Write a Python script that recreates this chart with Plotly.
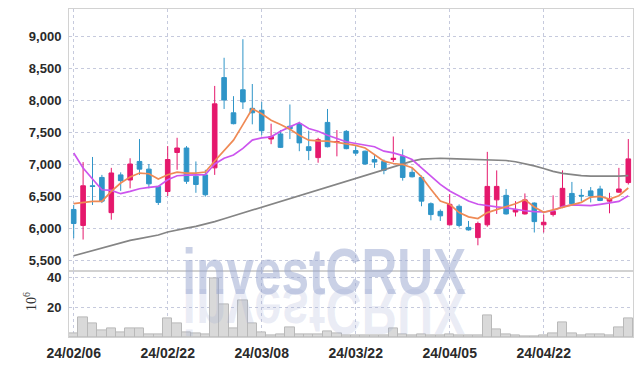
import plotly.graph_objects as go

dates = ["24/02/06", "24/02/07", "24/02/08", "24/02/13", "24/02/14", "24/02/15", "24/02/16", "24/02/19", "24/02/20", "24/02/21",
         "24/02/22", "24/02/23", "24/02/26", "24/02/27", "24/02/28", "24/02/29", "24/03/04", "24/03/05", "24/03/06", "24/03/07",
         "24/03/08", "24/03/11", "24/03/12", "24/03/13", "24/03/14", "24/03/15", "24/03/18", "24/03/19", "24/03/20", "24/03/21",
         "24/03/22", "24/03/25", "24/03/26", "24/03/27", "24/03/28", "24/03/29", "24/04/01", "24/04/02", "24/04/03", "24/04/04",
         "24/04/05", "24/04/08", "24/04/09", "24/04/11", "24/04/12", "24/04/15", "24/04/16", "24/04/17", "24/04/18", "24/04/19",
         "24/04/22", "24/04/23", "24/04/24", "24/04/25", "24/04/26", "24/04/29", "24/04/30", "24/05/02", "24/05/03", "24/05/07"]

open_ = [6290, 6040, 6660, 6790, 6240, 6830, 6750, 7040, 6920, 6650,
         6570, 7180, 7250, 6810, 6830, 6940, 8350, 7800, 8160, 7870,
         7840, 7390, 7470, 7590, 7630, 7270, 7100, 7650, 7340, 7510,
         7210, 7200, 7070, 7040, 7070, 7120, 6870, 6790, 6380, 6260,
         6050, 6340, 6010, 5850, 6050, 6440, 6510, 6250, 6220, 6390,
         6050, 6210, 6330, 6540, 6510, 6580, 6610, 6420, 6560, 6710]
high = [6360, 7030, 7110, 6830, 6940, 6870, 7090, 7390, 7000, 6660,
        7280, 7410, 7280, 7040, 6910, 8220, 8660, 8060, 8950, 8250,
        7970, 7630, 7530, 7930, 7660, 7520, 7410, 7860, 7530, 7530,
        7280, 7210, 7150, 7070, 7430, 7230, 6940, 6820, 6400, 6290,
        6530, 6370, 6110, 6100, 7190, 6900, 6610, 6420, 6540, 6400,
        6210, 6510, 6900, 6720, 6610, 6640, 6660, 6550, 6940, 7390]
low = [5840, 5820, 6360, 6390, 6130, 6580, 6620, 6830, 6620, 6360,
       6500, 6910, 6690, 6550, 6490, 6830, 7860, 7620, 7860, 7620,
       7450, 7310, 7250, 7390, 7200, 7060, 7020, 7260, 7120, 7230,
       7130, 6990, 6940, 6840, 7030, 6740, 6790, 6340, 6120, 6110,
       6040, 6010, 5960, 5730, 6020, 6220, 6210, 6180, 6210, 5930,
       5930, 6180, 6310, 6370, 6420, 6400, 6420, 6230, 6550, 6680]
close = [6070, 6660, 6650, 6420, 6860, 6740, 7000, 6920, 6690, 6400,
         7070, 7250, 6730, 6680, 6520, 7940, 8000, 7630, 7970, 7800,
         7520, 7430, 7260, 7550, 7330, 7210, 7380, 7270, 7350, 7240,
         7170, 7000, 7030, 6900, 7090, 6790, 6800, 6420, 6210, 6190,
         6370, 6040, 5970, 6070, 6650, 6650, 6220, 6290, 6440, 6100,
         6090, 6260, 6620, 6380, 6500, 6500, 6430, 6460, 6610, 7080]

ma_short = [6380, 6400, 6416, 6416, 6572, 6703, 6796, 6859, 6848, 6765,
            6833, 6874, 6859, 6859, 6875, 7048, 7203, 7373, 7616, 7864,
            7786, 7683, 7616, 7543, 7450, 7373, 7363, 7358, 7337, 7311,
            7290, 7251, 7148, 7044, 7008, 6992, 6941, 6801, 6604, 6423,
            6371, 6241, 6174, 6148, 6241, 6290, 6328, 6380, 6443, 6328,
            6245, 6287, 6328, 6365, 6401, 6484, 6495, 6453, 6505, 6625]
ma_mid = [7171, 6937, 6765, 6598, 6588, 6536, 6572, 6614, 6635, 6650,
          6755, 6817, 6827, 6827, 6833, 7000, 7089, 7141, 7244, 7373,
          7409, 7425, 7513, 7580, 7647, 7554, 7513, 7450, 7399, 7347,
          7320, 7300, 7270, 7200, 7174, 7132, 7070, 6941, 6811, 6682,
          6578, 6500, 6422, 6371, 6345, 6330, 6315, 6290, 6270, 6255,
          6250, 6270, 6335, 6360, 6360, 6350, 6370, 6390, 6415, 6505]
ma_long = [5567, 5609, 5650, 5682, 5723, 5765, 5807, 5833, 5859, 5890,
           5937, 5973, 5999, 6026, 6060, 6100, 6145, 6190, 6235, 6280,
           6325, 6370, 6415, 6460, 6505, 6550, 6595, 6645, 6690, 6735,
           6780, 6830, 6875, 6920, 6965, 7005, 7045, 7075, 7088, 7090,
           7085, 7080, 7075, 7068, 7062, 7058, 7055, 7035, 7005, 6970,
           6930, 6885, 6855, 6832, 6818, 6810, 6807, 6808, 6812, 6818]

volume = [2.7, 13.5, 9.4, 4.3, 6.1, 3.4, 6.1, 6.1, 2.0, 2.0,
          12.8, 9.4, 3.4, 2.7, 2.0, 39.8, 22.2, 6.1, 24.7, 9.4,
          3.4, 1.1, 2.0, 6.7, 2.0, 2.0, 1.5, 3.6, 2.7, 1.1,
          0.9, 0.9, 0.9, 1.3, 6.1, 1.6, 0.9, 1.6, 0.9, 0.9,
          1.6, 0.9, 0.9, 0.9, 14.4, 4.9, 1.6, 0.9, 0.4, 0.4,
          0.9, 2.2, 9.9, 2.2, 0.9, 1.6, 1.6, 0.9, 6.7, 12.4]

tick_labels = ["24/02/06", "24/02/22", "24/03/08", "24/03/22", "24/04/05", "24/04/22"]
price_ticks = [5500, 6000, 6500, 7000, 7500, 8000, 8500, 9000]
vol_ticks = [20, 40]

UP = "#e5186c"
DOWN = "#2f95c8"
GRID = "#c6cadd"
FRAME = "#d2d2d2"
TXT = "#2a2a2a"
FONT = "Liberation Sans, Arial, sans-serif"

fig = go.Figure()

fig.add_trace(go.Bar(
    x=dates, y=volume, xaxis="x2", yaxis="y2",
    marker=dict(color="#d9d9d9", line=dict(color="#b9b9b9", width=1)),
    showlegend=False, hoverinfo="skip"))

fig.add_trace(go.Candlestick(
    x=dates, open=open_, high=high, low=low, close=close,
    xaxis="x", yaxis="y",
    increasing=dict(line=dict(color=UP, width=1), fillcolor=UP),
    decreasing=dict(line=dict(color=DOWN, width=1), fillcolor=DOWN),
    whiskerwidth=0, showlegend=False))

fig.add_trace(go.Scatter(x=dates, y=ma_long, mode="lines", xaxis="x", yaxis="y",
                         line=dict(color="#858585", width=1.7), showlegend=False))
fig.add_trace(go.Scatter(x=dates, y=ma_mid, mode="lines", xaxis="x", yaxis="y",
                         line=dict(color="#cc55ee", width=1.7), showlegend=False))
fig.add_trace(go.Scatter(x=dates, y=ma_short, mode="lines", xaxis="x", yaxis="y",
                         line=dict(color="#ef8a55", width=1.7), showlegend=False))

axis_common = dict(showline=True, mirror=True, linecolor=FRAME, linewidth=1,
                   showgrid=True, gridcolor=GRID, griddash="dot", gridwidth=1,
                   zeroline=False, automargin=False)

fig.update_layout(
    width=643, height=366,
    margin=dict(l=69, r=10, t=9, b=29, autoexpand=False),
    paper_bgcolor="white", plot_bgcolor="white",
    bargap=0,
    xaxis=dict(**axis_common, type="category", domain=[0, 1], anchor="y",
               range=[-0.5, 59.5], autorange=False,
               showticklabels=False, rangeslider=dict(visible=False),
               tickmode="array", tickvals=tick_labels),
    yaxis=dict(**axis_common, domain=[0.2, 1], range=[5322, 9422],
               tickmode="array", tickvals=price_ticks, tickformat=",",
               ticks="outside", ticklen=4, tickcolor="rgba(0,0,0,0)",
               tickfont=dict(family=FONT, size=13, color=TXT, weight="bold")),
    xaxis2=dict(**axis_common, type="category", domain=[0, 1], anchor="y2",
                range=[-0.5, 59.5], autorange=False,
                tickmode="array", tickvals=tick_labels, ticktext=tick_labels,
                ticks="outside", ticklen=3, tickcolor="rgba(0,0,0,0)",
                tickfont=dict(family=FONT, size=14, color=TXT, weight="bold")),
    yaxis2=dict(**axis_common, domain=[0, 0.2], range=[0, 44.3],
                tickmode="array", tickvals=vol_ticks,
                ticks="outside", ticklen=4, tickcolor="rgba(0,0,0,0)",
                tickfont=dict(family=FONT, size=13, color=TXT, weight="bold")),
    annotations=[
        dict(text="10<sup>6</sup>", xref="paper", yref="paper", x=-0.070, y=0.108,
             showarrow=False, textangle=-90, xanchor="center", yanchor="middle",
             font=dict(family="Liberation Serif, DejaVu Serif, serif", size=14, color="#333")),
        dict(text="investCRUX", xref="paper", yref="paper", x=0.4535, y=0.198,
             showarrow=False, xanchor="center", yanchor="middle",
             font=dict(family=FONT, size=64, color="rgba(150,163,206,0.5)", weight="bold")),
        dict(text="investCRUX", xref="paper", yref="paper", x=0.4535, y=0.078,
             showarrow=False, xanchor="center", yanchor="middle",
             font=dict(family=FONT, size=64, color="rgba(160,172,212,0.22)", weight="bold")),
    ],
)

post = """
document.body.style.margin = '0';
document.body.style.padding = '0';
var gd = document.getElementById('{plot_id}');
function squeeze(idx, flip) {
  var g = gd.querySelector('g.annotation[data-index="' + idx + '"]');
  if (!g) return;
  var t = g.querySelector('text.annotation-text');
  var b = t.getBBox();
  var cx = b.x + b.width / 2;
  var cy = b.y + b.height / 2;
  var sx = 284 / b.width;
  var sy = flip ? -1 : 1;
  var ty = flip ? 2 * cy : 0;
  t.setAttribute('transform', 'translate(' + (cx * (1 - sx)) + ',' + ty + ') scale(' + sx + ',' + sy + ')');
}
squeeze(1, false);
squeeze(2, true);
"""

fig.write_html("out.html", post_script=post, config={"displayModeBar": False})
